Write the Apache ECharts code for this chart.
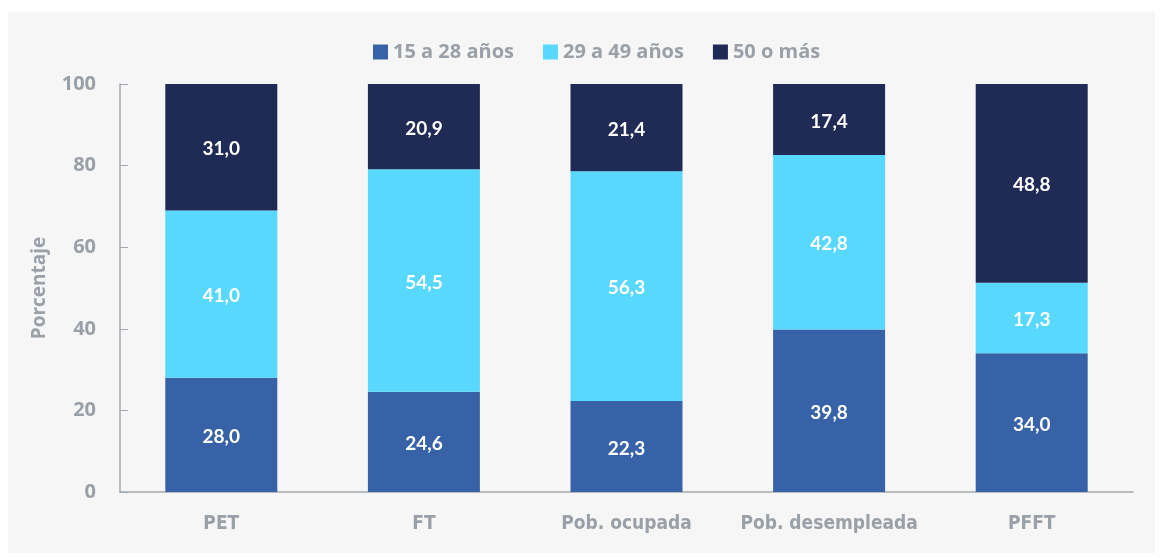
<!DOCTYPE html>
<html>
<head>
<meta charset="utf-8">
<script src="https://cdn.jsdelivr.net/npm/echarts@6/dist/echarts.min.js"></script>
<style>
    html, body { margin: 0; padding: 0; background: #ffffff; }
    #wrap { position: absolute; left: 8px; top: 12px; width: 1147px; height: 541px; background: #f6f6f6; }
    #main { position: absolute; left: -8px; top: -12px; width: 1160px; height: 558px; }
</style>
</head>
<body>
<div id="wrap"><div id="main"></div></div>
<script>
// categorías (eje x)
var categorias = ['PET', 'FT', 'Pob. ocupada', 'Pob. desempleada', 'PFFT'];
// series
var nombres = ['15 a 28 años', '29 a 49 años', '50 o más'];
var joven = [28.0, 24.6, 22.3, 39.8, 34.0];
var medio = [41.0, 54.5, 56.3, 42.8, 17.3];
var mayor = [31.0, 20.9, 21.4, 17.4, 48.8];
var colores = ['#3862a8', '#58d8fc', '#1f2a55'];

var chart = document.getElementById('main');
var echart = echarts.init(chart);

function serie(nombre, datos, color) {
    return {
        name: nombre,
        type: 'bar',
        stack: 'total',
        barWidth: 112,
        data: datos,
        itemStyle: {color: color},
        label: {
            show: true,
            color: '#ffffff',
            fontFamily: 'Lato',
            fontWeight: 'bold',
            fontSize: 19,
            offset: [0, 2],
            formatter: function (p) {
                return p.value.toFixed(1).replace('.', ',');
            }
        }
    };
}

var option = {
    backgroundColor: 'transparent',
    legend: {
        top: 37,
        left: 368,
        itemWidth: 15,
        itemHeight: 15,
        itemGap: 29,
        icon: 'rect',
        textStyle: {color: '#9aa0a8', fontFamily: 'Open Sans', fontWeight: 'bold', fontSize: 20},
        data: nombres
    },
    grid: {left: 120, right: 27, top: 84, bottom: 66},
    xAxis: {
        type: 'category',
        data: categorias,
        axisLine: {lineStyle: {color: '#a3a9b0', width: 1.5}},
        axisTick: {show: false},
        axisLabel: {
            interval: 0,
            color: '#9aa0a8',
            fontFamily: 'DejaVu Sans Condensed',
            fontWeight: 'bold',
            fontSize: 19,
            margin: 23
        }
    },
    yAxis: {
        type: 'value',
        min: 0,
        max: 100,
        interval: 20,
        name: 'Porcentaje',
        nameLocation: 'middle',
        nameGap: 71,
        nameRotate: 90,
        nameTextStyle: {color: '#9aa0a8', fontFamily: 'Open Sans', fontWeight: 'bold', fontSize: 19},
        axisLine: {show: true, lineStyle: {color: '#a3a9b0', width: 1.5}},
        axisTick: {show: true, inside: true, length: 8, lineStyle: {color: '#a3a9b0'}},
        splitLine: {show: false},
        axisLabel: {color: '#9aa0a8', fontFamily: 'Open Sans', fontWeight: 'bold', fontSize: 20, margin: 24}
    },
    series: [
        serie(nombres[0], joven, colores[0]),
        serie(nombres[1], medio, colores[1]),
        serie(nombres[2], mayor, colores[2])
    ]
};
echart.setOption(option);
</script>
</body>
</html>
